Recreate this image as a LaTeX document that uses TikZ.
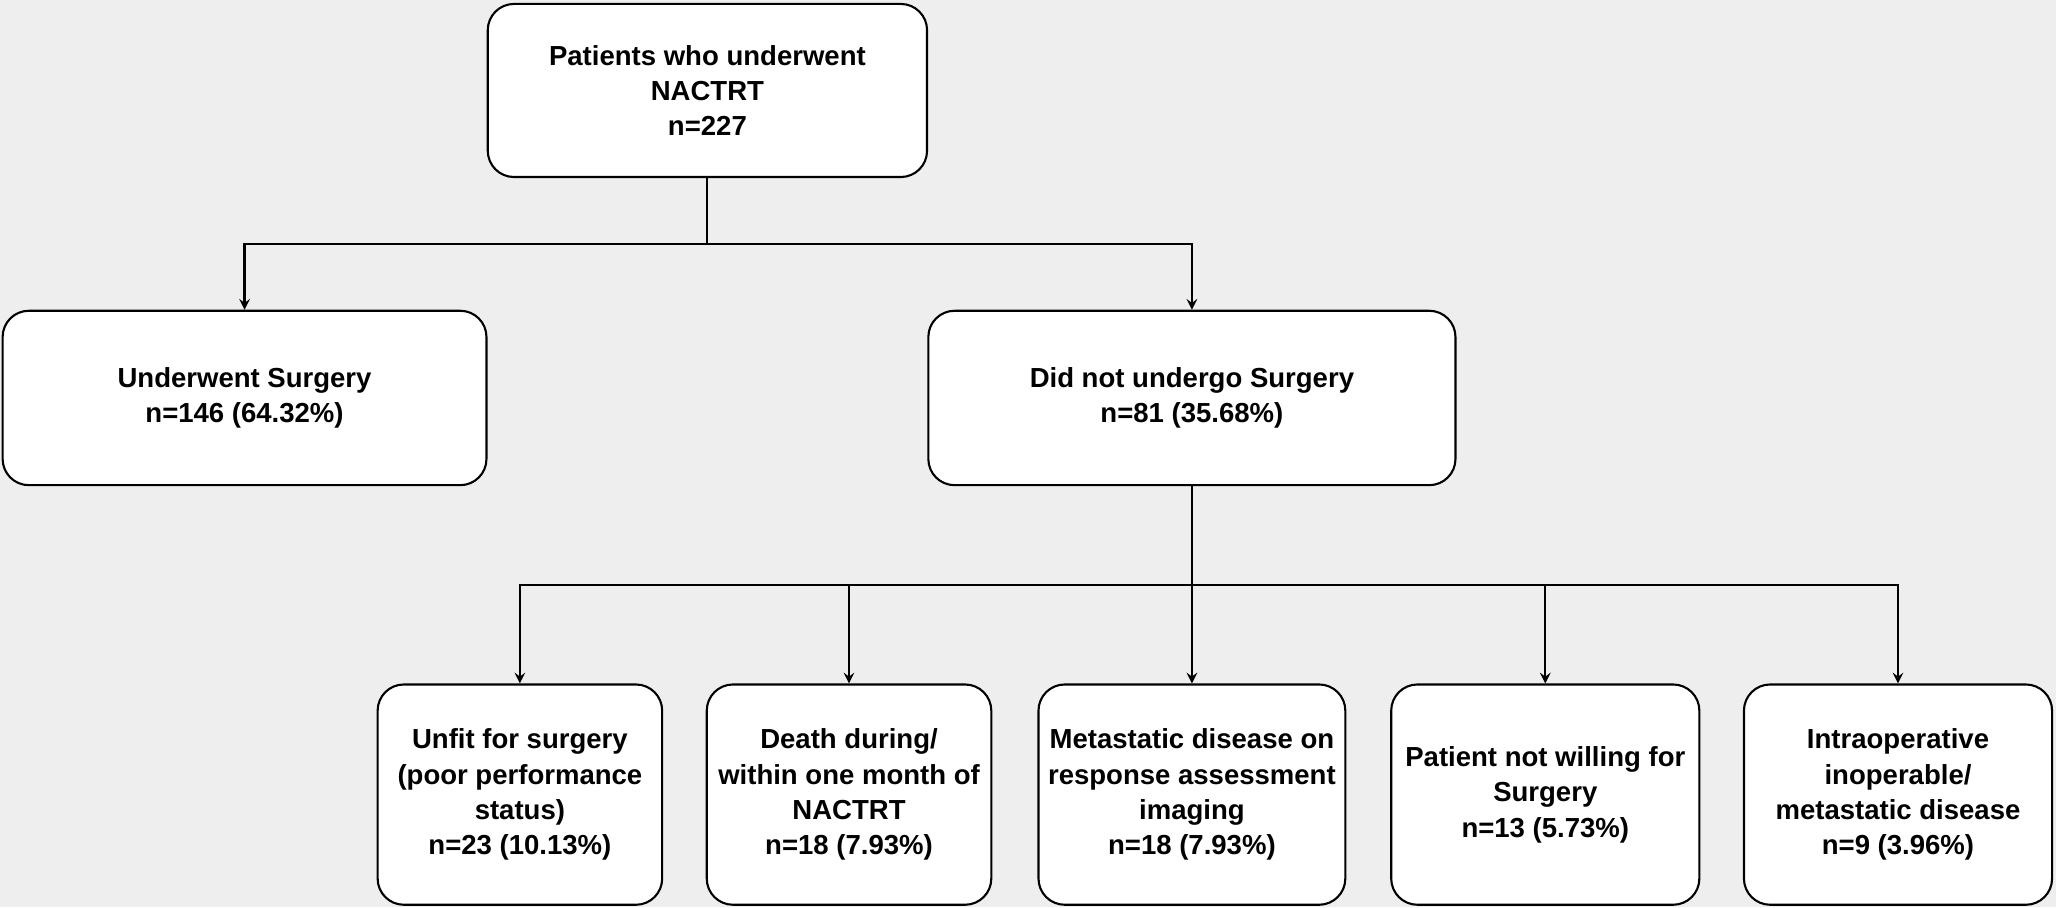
\documentclass[tikz,border=0pt]{standalone}
\usepackage{fontspec}
\setmainfont{Liberation Sans}
\usetikzlibrary{arrows, positioning}
\tikzstyle{arrow} = [thick,->,>=stealth]
\tikzstyle{line} = [thick]
\tikzstyle{block} = [rectangle, draw, thick, fill=white, rounded corners=10pt, align=center, font=\bfseries\fontsize{10.5}{13.5}\selectfont, inner sep=2pt]

\begin{document}
\begin{tikzpicture}[x=0.5pt, y=-0.5pt]
    \fill[gray!13] (0,0) rectangle (1568,692);
    \useasboundingbox (0,0) rectangle (1568,692);
    % Nodes
    \node (patients) [block, minimum width=167.5pt, minimum height=66pt] at (539.5,69) {Patients who underwent\\NACTRT\\n=227};
    \node (surgery) [block, minimum width=184.5pt, minimum height=66.5pt] at (186.5,303.5) {Underwent Surgery\\n=146 (64.32\%)};
    \node (nosurgery) [block, minimum width=201pt, minimum height=66.5pt] at (909,303.5) {Did not undergo Surgery\\n=81 (35.68\%)};
    \node (unfit) [block, minimum width=108.5pt, minimum height=84pt] at (396.5,606) {Unfit for surgery\\(poor performance\\status)\\n=23 (10.13\%)};
    \node (death) [block, minimum width=108.5pt, minimum height=84pt] at (647.5,606) {Death during/\\within one month of\\NACTRT\\n=18 (7.93\%)};
    \node (meta) [block, minimum width=117pt, minimum height=84pt] at (909,606) {Metastatic disease on\\response assessment\\imaging\\n=18 (7.93\%)};
    \node (willing) [block, minimum width=117.5pt, minimum height=84pt] at (1178.5,606) {Patient not willing for\\Surgery\\n=13 (5.73\%)};
    \node (intraop) [block, minimum width=117.5pt, minimum height=84pt] at (1447.5,606) {Intraoperative\\inoperable/\\metastatic disease\\n=9 (3.96\%)};
    \coordinate (split1) at (539.5,186);
    \coordinate (split2) at (909,446);

    % Arrows
    \draw [line] (patients) -- (split1);
    \draw [arrow] (split1) -| (surgery);
    \draw [arrow] (split1) -| (nosurgery);
    \draw [line] (nosurgery) -- (split2);
    \draw [arrow] (split2) -| (unfit);
    \draw [arrow] (split2) -| (death);
    \draw [arrow] (split2) -- (meta);
    \draw [arrow] (split2) -| (willing);
    \draw [arrow] (split2) -| (intraop);
\end{tikzpicture}
\end{document}
